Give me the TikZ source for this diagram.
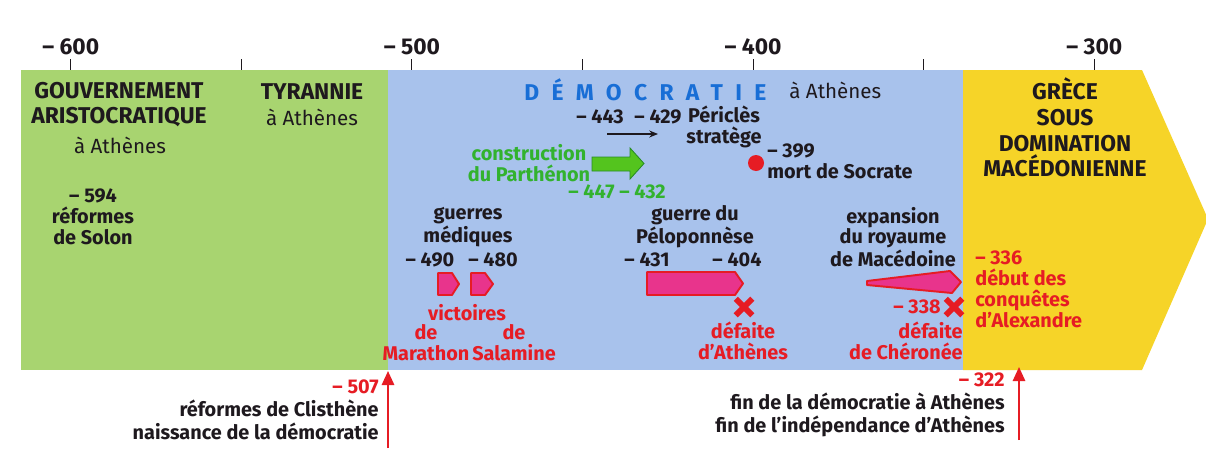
\documentclass[tikz,border=0pt]{standalone}
\usepackage{fontspec}
\setmainfont{Fira Sans}
\usetikzlibrary{arrows.meta,shapes.misc}

\definecolor{bandgreen}{RGB}{168,212,112}
\definecolor{bandblue}{RGB}{168,194,236}
\definecolor{bandyellow}{RGB}{246,212,40}
\definecolor{redtext}{RGB}{230,28,36}
\definecolor{pinkfill}{RGB}{232,52,140}
\definecolor{greentext}{RGB}{50,178,46}
\definecolor{greenfill}{RGB}{84,196,30}
\definecolor{demoblue}{RGB}{24,110,214}
\definecolor{darktext}{RGB}{30,25,30}

\begin{document}
\begin{tikzpicture}[x = 0.02cm, y = -0.02cm,
  lbl/.style = {font = \bfseries\fontsize{11.3}{11.9}\selectfont, align = center, inner sep = 0pt, text = darktext},
  head/.style = {font = \bfseries\fontsize{13}{14.3}\selectfont, align = center, inner sep = 0pt, text = darktext},
  thin/.style = {font = \fontsize{11.7}{12}\selectfont, inner sep = 0pt, text = darktext},
  redlbl/.style = {lbl, text = redtext},
  greenlbl/.style = {lbl, text = greentext},
  pinkarrow/.style = {fill = pinkfill, draw = redtext, line width = 1.1pt, line join = round},
  xmark/.style = {cross out, draw = redtext, line width = 3.4pt, minimum size = 6pt, inner sep = 0pt},
  uparrow/.style = {redtext, line width = 1.2pt, -{Triangle[length = 8pt, width = 7pt]}}]
\useasboundingbox (0, 0) rectangle (1206, 463);
\fill[white] (0, 0) rectangle (1206, 463);

\fill[bandgreen] (21, 70) rectangle (388, 370);
\fill[bandblue] (388, 70) rectangle (963, 370);
\fill[bandyellow] (963, 70) -- (1142, 70) -- (1208, 219) -- (1142, 370) -- (963, 370) -- cycle;

\foreach \x in {70.7, 241.3, 411.9, 582.5, 753.1, 923.7, 1094.3}
  \draw[darktext, line width = 0.6pt] (\x, 59) -- (\x, 70);
\node[head] (y600) at (70.7, 47) {– 600};
\node[head] (y500) at (411.9, 47) {– 500};
\node[head] (y400) at (753.1, 47) {– 400};
\node[head] (y300) at (1094.3, 47) {– 300};

\node[head] (gouv) at (119, 104.5) {GOUVERNEMENT\\ARISTOCRATIQUE};
\node[thin] (gouvath) at (120, 145) {à Athènes};
\node[lbl] (solon) at (93, 217) {– 594\\réformes\\de Solon};
\node[head] (tyran) at (312, 92) {TYRANNIE};
\node[thin] (tyranath) at (312, 117) {à Athènes};

\node[head, text = demoblue, anchor = west, font = \bfseries\fontsize{13}{14}\selectfont\addfontfeature{LetterSpace = 54}] (demo) at (524, 90) {DÉMOCRATIE};
\node[thin, anchor = west] (demoath) at (789, 90) {à Athènes};

\node[lbl] (d443) at (600, 117) {– 443};
\node[lbl] (d429) at (658, 117) {– 429};
\node[lbl] (peri) at (724, 126.5) {Périclès\\stratège};
\coordinate (peri1) at (607, 134);
\coordinate (peri2) at (658, 134);
\draw[darktext, line width = 0.8pt, -{Stealth[length = 5pt, width = 4pt]}] (peri1) -- (peri2);

\node[greenlbl] (parth) at (529, 163) {construction\\du Parthénon};
\draw[fill = greenfill, draw = greentext!80!black, line width = 0.5pt] (592, 157) -- (630, 157) -- (630, 148) -- (644, 163.5) -- (630, 179) -- (630, 171) -- (592, 171) -- cycle;
\node[greenlbl] (d447) at (617, 192) {– 447 – 432};

\fill[redtext] (756, 163) circle [radius = 8];
\node[lbl, align = left, anchor = west] (socrate) at (767, 161.5) {– 399\\mort de Socrate};

\node[lbl] (mediq) at (468, 227) {guerres\\médiques};
\node[lbl] (d490) at (430, 260) {– 490};
\node[lbl] (d480) at (493, 260) {– 480};
\draw[pinkarrow] (438, 273) -- (452, 273) -- (459, 284) -- (452, 295) -- (438, 295) -- cycle;
\draw[pinkarrow] (471, 273) -- (485, 273) -- (493, 284) -- (485, 295) -- (471, 295) -- cycle;
\node[redlbl] (victo) at (467, 313) {victoires};
\node[redlbl] (marat) at (426, 343) {de\\Marathon};
\node[redlbl] (salam) at (514, 343) {de\\Salamine};

\node[lbl] (pelop) at (695, 227) {guerre du\\Péloponnèse};
\node[lbl] (d431) at (647, 260) {– 431};
\node[lbl] (d404) at (737, 260) {– 404};
\draw[pinkarrow] (647, 272) -- (735, 272) -- (743, 283.5) -- (735, 295) -- (647, 295) -- cycle;
\node[xmark] (x404) at (744, 307) {};
\node[redlbl] (athen) at (743, 341) {défaite\\d’Athènes};

\node[lbl] (maced) at (893, 237) {expansion\\du royaume\\de Macédoine};
\draw[pinkarrow] (867, 281) -- (950, 271) -- (961, 282) -- (952, 293) -- (867, 285) -- cycle;
\node[redlbl, anchor = east] (d338) at (941, 307) {– 338};
\node[xmark] (x338) at (954, 307) {};
\node[redlbl, align = right, anchor = east] (chero) at (963, 341) {défaite\\de Chéronée};

\node[lbl, text = redtext, align = left, anchor = west, font = \bfseries\fontsize{11.3}{12}\selectfont] (alex) at (975, 289.5) {– 336\\début des\\conquêtes\\d’Alexandre};
\node[head, font = \bfseries\fontsize{13}{14.6}\selectfont] (grece) at (1065, 127.5) {GRÈCE\\SOUS\\DOMINATION\\MACÉDONIENNE};

\coordinate (c507a) at (388, 448);
\coordinate (c507b) at (388, 371);
\draw[uparrow] (c507a) -- (c507b);
\node[lbl, align = right, anchor = east, font = \bfseries\fontsize{11.3}{13}\selectfont] (clist) at (379, 410) {\textcolor{redtext}{– 507}\\réformes de Clisthène\\naissance de la démocratie};

\coordinate (c322a) at (1019, 440);
\coordinate (c322b) at (1019, 367);
\draw[uparrow] (c322a) -- (c322b);
\node[lbl, align = right, anchor = east, font = \bfseries\fontsize{11.3}{13}\selectfont] (finath) at (1005, 405) {\textcolor{redtext}{– 322}\\fin de la démocratie à Athènes\\fin de l’indépendance d’Athènes};
\end{tikzpicture}
\end{document}
